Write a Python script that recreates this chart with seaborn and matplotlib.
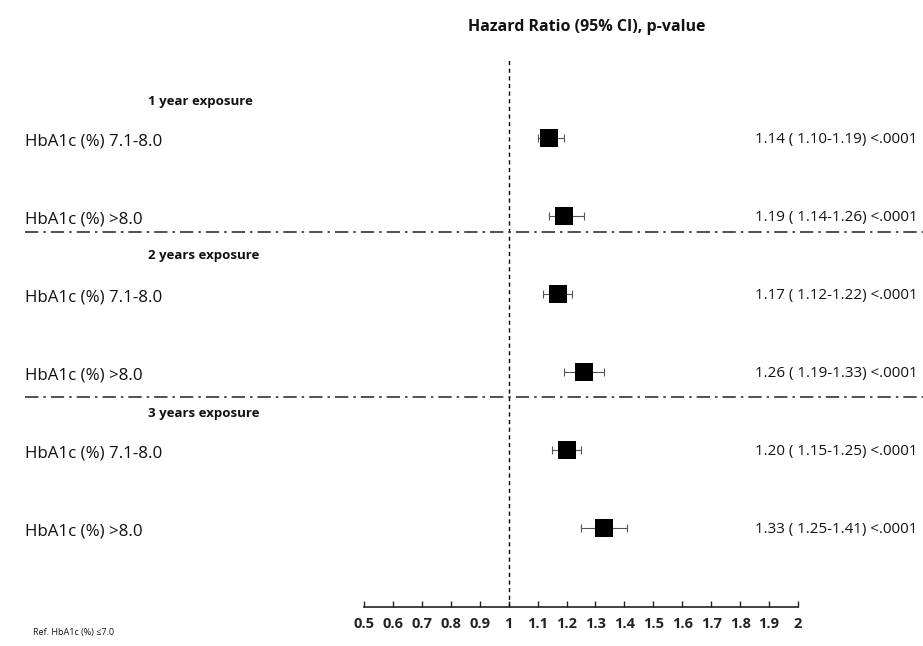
import matplotlib
matplotlib.use("Agg")
import matplotlib.pyplot as plt
import matplotlib.transforms as mtransforms
import seaborn as sns
import pandas as pd
import numpy as np

# ---- data ----
row_labels = ["HbA1c (%) 7.1-8.0", "HbA1c (%) >8.0",
              "HbA1c (%) 7.1-8.0", "HbA1c (%) >8.0",
              "HbA1c (%) 7.1-8.0", "HbA1c (%) >8.0"]
hr = [1.14, 1.19, 1.17, 1.26, 1.20, 1.33]
ci_low = [1.10, 1.14, 1.12, 1.19, 1.15, 1.25]
ci_high = [1.19, 1.26, 1.22, 1.33, 1.25, 1.41]
p_text = ["<.0001"] * 6
group_headers = ["1 year exposure", "2 years exposure", "3 years exposure"]
x_ticks = [0.5, 0.6, 0.7, 0.8, 0.9, 1, 1.1, 1.2, 1.3, 1.4, 1.5, 1.6, 1.7, 1.8, 1.9, 2]
x_tick_labels = ["0.5", "0.6", "0.7", "0.8", "0.9", "1", "1.1", "1.2", "1.3", "1.4",
                 "1.5", "1.6", "1.7", "1.8", "1.9", "2"]
title = "Hazard Ratio (95% CI), p-value"
ref_note = "Ref. HbA1c (%) \u22647.0"

sns.set_theme(style="white")
plt.rcParams['font.family'] = ['Open Sans', 'DejaVu Sans']

W, H = 923, 646
fig = plt.figure(figsize=(W / 100, H / 100), dpi=100)
fig.patch.set_facecolor("white")

# axes: x from pixel 364 to 798, y from pixel 0 to 607 (y data == pixel rows)
ax = fig.add_axes([364 / W, (H - 607) / H, (798 - 364) / W, 607 / H])
ax.set_xlim(0.5, 2.0)
ax.set_ylim(607, 0)
ax.patch.set_alpha(0)

row_y = [138 + 78 * i for i in range(6)]
header_y = [101, 256, 414]
sep_y = [232, 397]

df = pd.DataFrame({"label": row_labels, "hr": hr, "lo": ci_low, "hi": ci_high, "y": row_y})

# CI lines
ax.errorbar(df["hr"], df["y"],
            xerr=[df["hr"] - df["lo"], df["hi"] - df["hr"]],
            fmt="none", ecolor="#555555", elinewidth=0.8, capsize=3, capthick=0.8, zorder=2)
sns.scatterplot(data=df, x="hr", y="y", marker="s", s=150, color="black",
                edgecolor="black", linewidth=0, ax=ax, zorder=3, legend=False)

# reference line
ax.axvline(1.0, ymin=0, ymax=1 - 60 / 607, color="black", lw=1.0, ls=(0, (3, 2.5)), zorder=1)

# axis styling
for s in ["top", "right", "left"]:
    ax.spines[s].set_visible(False)
ax.spines["bottom"].set_color("#222222")
ax.spines["bottom"].set_linewidth(1.2)
ax.set_yticks([])
ax.set_xticks(x_ticks)
ax.set_xticklabels(x_tick_labels, fontsize=10.5, fontweight="bold", color="#222222")
ax.tick_params(axis="x", direction="in", length=4, width=1.0, color="#222222", pad=7, bottom=True)
ax.set_xlabel("")
ax.set_ylabel("")

tr = mtransforms.blended_transform_factory(fig.transFigure, ax.transData)

# left labels
for lab, y in zip(row_labels, row_y):
    ax.text(25 / W, y + 3, lab, transform=tr, ha="left", va="center", fontsize=12.2, color="#111111")

# group headers
for h, y in zip(group_headers, header_y):
    ax.text(148 / W, y, h, transform=tr, ha="left", va="center", fontsize=9.5, fontweight="bold", color="#111111")

# right text
for v, l, hgh, p, y in zip(hr, ci_low, ci_high, p_text, row_y):
    ax.text(755 / W, y + 2, f"{v:.2f} ( {l:.2f}-{hgh:.2f}) {p}", transform=tr, ha="left", va="center",
            fontsize=10.9, color="#111111", clip_on=False)

# separators
for y in sep_y:
    ax.plot([25 / W, 1.0], [y, y], transform=tr, color="#333333", lw=1.2,
            ls=(0, (8, 3, 1.5, 3)), clip_on=False)

# title
fig.text(587 / W, 1 - 27 / H, title, ha="center", va="center", fontsize=11.5, fontweight="bold", color="#111111")
# reference note
fig.text(33 / W, 1 - 632 / H, ref_note, ha="left", va="center", fontsize=6.5, color="#111111")

fig.savefig("out.png", dpi=100, facecolor="white")
